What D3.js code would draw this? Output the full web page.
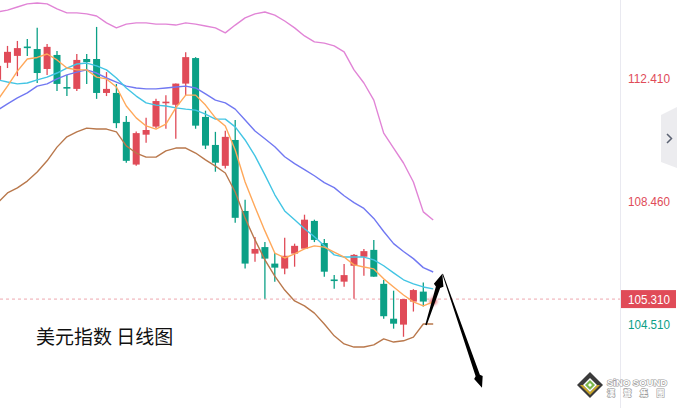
<!DOCTYPE html>
<html><head><meta charset="utf-8">
<script src="https://cdn.jsdelivr.net/npm/d3@7"></script>
<style>html,body{margin:0;padding:0;background:#fff;overflow:hidden}</style>
</head><body><svg id="c" width="677" height="408"></svg>
<script>
// ---- data ----
const days = d3.range(45);
const opens  = [112.35,112.90,113.12,113.42,113.34,112.70,113.15,112.12,112.06,113.02,113.02,111.93,111.93,111.00,109.63,110.59,110.85,111.63,111.55,112.23,113.05,111.16,110.26,109.59,110.42,108.14,106.77,106.98,106.45,106.29,106.77,106.93,107.82,107.11,105.94,105.87,106.38,106.67,106.89,105.80,104.68,104.49,105.23,105.55,105.16];
const highs  = [112.90,113.44,113.60,113.66,114.02,113.50,113.28,112.51,113.18,113.18,114.05,112.60,112.22,111.19,110.69,111.13,111.74,111.86,112.23,113.24,113.08,111.36,110.68,110.72,111.06,108.50,107.30,107.14,106.79,107.28,107.09,108.02,107.86,107.24,106.08,106.44,106.76,106.92,107.21,105.92,105.58,105.31,105.63,105.84,105.42];
const lows   = [112.25,112.73,112.47,113.12,112.25,112.51,111.99,111.83,111.99,112.22,111.74,111.83,110.80,109.69,109.59,110.33,110.80,110.78,110.46,111.86,110.78,110.13,109.40,109.50,107.76,106.29,106.51,105.32,105.87,106.11,106.35,106.93,107.14,106.03,105.64,105.71,105.32,106.06,106.03,104.68,104.36,104.10,104.91,105.07,105.10];
const closes = [112.80,113.25,113.37,113.40,112.57,113.41,112.22,112.10,112.99,112.92,111.93,112.06,110.96,109.75,110.64,110.74,111.67,111.65,112.23,113.08,110.88,110.24,109.69,110.52,107.92,106.45,106.92,106.61,106.32,106.70,107.02,107.86,107.21,106.19,105.91,106.08,106.73,106.85,106.03,104.76,104.52,105.31,105.60,105.23,105.31];
const ma5  = [111.70,112.15,112.63,113.02,113.07,113.18,112.99,112.73,112.67,112.67,112.44,112.38,112.12,111.51,111.13,110.87,110.77,110.93,111.45,111.86,111.86,111.54,111.13,110.87,110.10,109.07,108.27,107.50,106.79,106.63,106.76,106.92,107.02,106.98,106.82,106.66,106.41,106.34,106.28,105.96,105.70,105.44,105.22,105.09,105.22];
const ma10 = [112.35,112.28,112.22,112.25,112.35,112.44,112.57,112.73,112.86,112.89,112.80,112.67,112.41,112.09,111.83,111.61,111.54,111.51,111.45,111.41,111.38,111.25,111.09,111.09,110.84,110.42,109.91,109.30,108.66,108.14,107.86,107.57,107.31,107.02,106.73,106.66,106.66,106.66,106.57,106.38,106.15,105.93,105.80,105.70,105.64];
const ma20 = [111.38,111.58,111.77,111.93,112.15,112.22,112.38,112.51,112.60,112.67,112.57,112.41,112.28,112.15,112.09,112.06,112.06,112.09,112.12,112.15,112.09,111.90,111.70,111.61,111.41,111.06,110.71,110.46,110.20,109.88,109.66,109.47,109.27,109.05,108.89,108.63,108.41,108.22,107.90,107.48,107.09,106.84,106.61,106.32,106.18];
const bollUpper = [114.53,114.59,114.69,114.79,114.82,114.79,114.63,114.50,114.50,114.47,114.40,114.18,114.02,114.14,114.18,114.18,114.14,114.14,114.11,114.18,114.14,114.08,114.02,113.86,114.11,114.34,114.47,114.53,114.43,114.24,114.02,113.76,113.57,113.53,113.44,113.25,112.67,112.25,111.70,110.64,110.16,109.68,109.07,108.11,107.85];
const bollLower = [108.40,108.72,108.88,109.10,109.39,109.75,110.19,110.52,110.68,110.80,110.77,110.77,110.68,110.23,110.00,109.87,109.87,110.07,110.16,110.16,110.00,109.78,109.58,109.36,108.75,107.91,107.21,106.57,106.05,105.60,105.25,105.09,104.86,104.51,104.13,103.87,103.77,103.77,103.84,104.03,103.93,103.97,104.09,104.51,104.51];
const axisTicks = [112.41, 108.46, 104.51];
const lastPrice = 105.31;
const title = "美元指数 日线图";
// annotation arrows in data space: [index, price]
const arrowUp   = [[43.27, 104.48], [44.92, 106.12]];
const arrowDown = [[44.95, 106.12], [48.93, 102.46]];

// ---- drawing ----
const W = 677, H = 408, axisX = 620;
const RED = "#e04b58", GREEN = "#0ba086";
const svg = d3.select("#c");
svg.append("rect").attr("width", W).attr("height", H).attr("fill", "#fff");

const defs = svg.append("defs");
defs.append("clipPath").attr("id", "plot").append("rect").attr("x", 0).attr("y", 0).attr("width", axisX).attr("height", H);
defs.append("filter").attr("id", "blur").attr("x", "-50%").attr("y", "-50%").attr("width", "200%").attr("height", "200%")
  .append("feGaussianBlur").attr("stdDeviation", 1.6);

const x = d3.scaleLinear().domain([0, 44]).range([-2.4, 433.2]);
const y = d3.scaleLinear().domain([112.41, 104.51]).range([78, 324]);

const plot = svg.append("g").attr("clip-path", "url(#plot)");

// current price dashed line
plot.append("line").attr("x1", 0).attr("x2", axisX).attr("y1", y(lastPrice)).attr("y2", y(lastPrice))
  .attr("stroke", "#eea7ae").attr("stroke-width", 1).attr("stroke-dasharray", "3,3");

// candles
const candles = days.map(i => ({i, o: opens[i], h: highs[i], l: lows[i], c: closes[i]}));
const cg = plot.append("g").selectAll("g").data(candles).join("g")
  .attr("filter", d => d.i === 44 ? "url(#blur)" : null)
  .attr("opacity", d => d.i === 44 ? 0.85 : 1);
cg.append("line")
  .attr("x1", d => x(d.i)).attr("x2", d => x(d.i))
  .attr("y1", d => y(d.h)).attr("y2", d => y(d.l))
  .attr("stroke", d => d.c >= d.o ? RED : GREEN).attr("stroke-width", 1.3);
cg.append("rect")
  .attr("x", d => x(d.i) - 3.5).attr("width", 7)
  .attr("y", d => Math.min(y(d.o), y(d.c)))
  .attr("height", d => Math.max(1.6, Math.abs(y(d.o) - y(d.c))))
  .attr("fill", d => d.c >= d.o ? RED : GREEN);

// indicator lines
const line = d3.line().x((d, i) => x(i)).y(d => y(d));
const series = [
  {v: bollUpper, c: "#e184d6"},
  {v: bollLower, c: "#b9784c"},
  {v: ma20, c: "#7178f2"},
  {v: ma10, c: "#43c5e4"},
  {v: ma5, c: "#ffa85a"}
];
plot.append("g").selectAll("path").data(series).join("path")
  .attr("d", d => line(d.v)).attr("fill", "none")
  .attr("stroke", d => d.c).attr("stroke-width", 1.4).attr("stroke-linejoin", "round");

// right axis
svg.append("line").attr("x1", axisX + 0.5).attr("x2", axisX + 0.5).attr("y1", 0).attr("y2", H)
  .attr("stroke", "#e9e9f0").attr("stroke-width", 1);
const axis = svg.append("g").attr("transform", `translate(${axisX},0)`)
  .call(d3.axisRight(y).tickValues(axisTicks).tickSize(0).tickPadding(8).tickFormat(d3.format(".3f")));
axis.select(".domain").remove();
axis.selectAll("text").attr("font-family", "'Liberation Sans', Arial, sans-serif").attr("font-size", 13.5)
  .attr("textLength", 42).attr("lengthAdjust", "spacingAndGlyphs")
  .attr("fill", d => d > lastPrice ? RED : GREEN);

// last price label
svg.append("rect").attr("x", axisX + 1).attr("y", y(lastPrice) - 9).attr("width", 55).attr("height", 18).attr("fill", RED);
svg.append("text").attr("x", axisX + 8).attr("y", y(lastPrice)).attr("dy", "0.35em")
  .attr("font-family", "'Liberation Sans', Arial, sans-serif").attr("font-size", 13.5)
  .attr("textLength", 42).attr("lengthAdjust", "spacingAndGlyphs").attr("fill", "#fff")
  .text(d3.format(".3f")(lastPrice));

// side tab with chevron
svg.append("path").attr("d", "M677,107 L661,115 L661,162 L677,168 Z").attr("fill", "#ececef");
svg.append("path").attr("d", "M667,134 L671.5,138.5 L667,143").attr("fill", "none")
  .attr("stroke", "#5b6272").attr("stroke-width", 1.5);

// title
svg.append("text").attr("x", 36).attr("y", 344)
  .attr("font-family", "'Noto Sans CJK SC', sans-serif").attr("font-size", 19).attr("fill", "#111")
  .text(title);

// arrows
function arrowPath(p1, p2, w0, w1, headLen, headW) {
  const dx = p2[0] - p1[0], dy = p2[1] - p1[1], L = Math.hypot(dx, dy);
  const ux = dx / L, uy = dy / L, nx = -uy, ny = ux;
  const nk = [p2[0] - ux * headLen, p2[1] - uy * headLen];
  const pt = (b, s, w) => [b[0] + nx * s * w / 2, b[1] + ny * s * w / 2];
  const pts = [pt(p1, 1, w0), pt(nk, 1, w1), pt([nk[0] + ux * 2, nk[1] + uy * 2], 1, headW), p2,
               pt([nk[0] + ux * 2, nk[1] + uy * 2], -1, headW), pt(nk, -1, w1), pt(p1, -1, w0)];
  return "M" + pts.map(p => p.join(",")).join("L") + "Z";
}
const toPx = p => [x(p[0]), y(p[1])];
svg.append("path").attr("d", arrowPath(toPx(arrowUp[0]), toPx(arrowUp[1]), 1.5, 4.5, 14, 10)).attr("fill", "#000");
svg.append("path").attr("d", arrowPath(toPx(arrowDown[0]), toPx(arrowDown[1]), 0.8, 4.5, 13, 9)).attr("fill", "#000");

// logo
const logo = svg.append("g").attr("transform", "translate(590,385)");
logo.append("path").attr("d", "M-13,0 L0,-13 L13,0 L0,13 Z").attr("fill", "#3b3b3b");
logo.append("path").attr("d", "M-10,0 L0,10 L10,0 L7,0 L0,7 L-7,0 Z").attr("fill", "#c9a526");
logo.append("path").attr("d", "M-7,0 L0,-7 L7,0 L0,7 Z").attr("fill", "#fff");
logo.append("path").attr("d", "M-5,0 L0,-5 L5,0 L0,5 Z").attr("fill", "#7bb84a");
logo.append("path").attr("d", "M-2,0 L0,-2 L2,0 L0,2 Z").attr("fill", "#fff");
svg.append("text").attr("x", 607).attr("y", 385.5)
  .attr("font-family", "'Liberation Sans', Arial, sans-serif").attr("font-weight", "bold").attr("font-size", 9.5)
  .attr("fill", "#fff").attr("stroke", "#9c9c9c").attr("stroke-width", 1.2).attr("paint-order", "stroke")
  .text("SiNO SOUND");
svg.append("text").attr("x", 607).attr("y", 395.5)
  .attr("font-family", "'Noto Sans CJK TC', sans-serif").attr("font-weight", "bold").attr("font-size", 8)
  .attr("letter-spacing", 8.5)
  .attr("fill", "#fff").attr("stroke", "#9c9c9c").attr("stroke-width", 1.2).attr("paint-order", "stroke")
  .text("漢聲集團");
</script></body></html>
